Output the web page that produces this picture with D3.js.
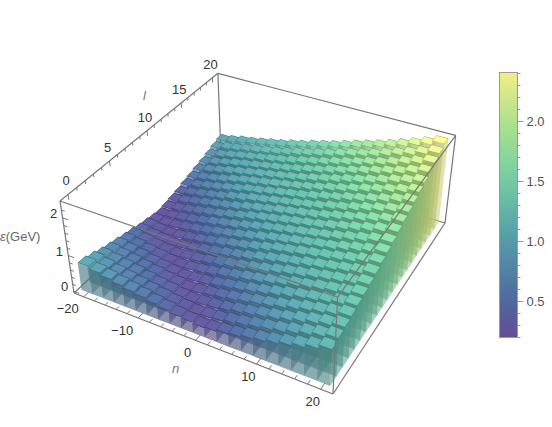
<!DOCTYPE html>
<meta charset="utf-8">
<style>
    html, body { margin: 0; background: #fff; }
    svg { display: block; }
    text { font-family: "Liberation Sans", sans-serif; font-size: 13px; }
</style>
<svg width="552" height="427"></svg>
<script src="https://d3js.org/d3.v7.min.js"></script>
<script>
// n runs -20..20 in steps of 2, l runs 0..20. energy[l][i] (GeV)
var nValues = [-20,-18,-16,-14,-12,-10,-8,-6,-4,-2,0,2,4,6,8,10,12,14,16,18,20];
var lValues = [0,1,2,3,4,5,6,7,8,9,10,11,12,13,14,15,16,17,18,19,20];
var energy = [
    [.76,.69,.63,.57,.52,.47,.41,.36,.31,.28,.25,.28,.33,.38,.45,.51,.58,.66,.75,.85,.96],
    [.69,.62,.56,.51,.46,.41,.36,.31,.27,.25,.28,.32,.38,.44,.51,.58,.65,.74,.83,.92,1.01],
    [.61,.56,.51,.46,.40,.35,.31,.27,.25,.28,.32,.37,.44,.50,.57,.64,.72,.81,.90,.98,1.06],
    [.55,.50,.45,.40,.35,.30,.27,.24,.27,.32,.37,.43,.50,.57,.63,.71,.80,.88,.95,1.03,1.11],
    [.50,.45,.40,.34,.30,.27,.24,.27,.31,.37,.43,.49,.56,.63,.71,.79,.87,.93,1.00,1.08,1.16],
    [.44,.39,.34,.30,.26,.24,.27,.31,.36,.43,.49,.56,.62,.70,.78,.86,.92,1.00,1.06,1.13,1.21],
    [.39,.34,.29,.26,.24,.27,.31,.36,.42,.49,.55,.62,.69,.77,.85,.91,.99,1.05,1.11,1.18,1.27],
    [.33,.29,.26,.23,.26,.30,.36,.42,.48,.54,.61,.69,.77,.84,.90,.98,1.04,1.10,1.17,1.24,1.34],
    [.29,.25,.23,.26,.30,.35,.41,.48,.54,.60,.68,.76,.84,.90,.97,1.03,1.09,1.16,1.23,1.32,1.41],
    [.25,.23,.26,.30,.35,.41,.47,.53,.60,.67,.75,.83,.89,.96,1.02,1.08,1.14,1.22,1.31,1.38,1.48],
    [.22,.25,.29,.34,.40,.47,.53,.59,.67,.74,.82,.88,.95,1.01,1.07,1.13,1.21,1.29,1.37,1.46,1.55],
    [.25,.29,.34,.40,.46,.52,.59,.66,.74,.81,.87,.94,1.00,1.06,1.12,1.20,1.28,1.36,1.45,1.54,1.63],
    [.29,.34,.40,.46,.52,.58,.65,.73,.80,.86,.93,.99,1.05,1.11,1.19,1.27,1.35,1.43,1.52,1.61,1.71],
    [.33,.39,.45,.51,.57,.65,.72,.80,.85,.92,.98,1.04,1.10,1.17,1.26,1.33,1.42,1.51,1.60,1.69,1.78],
    [.39,.45,.51,.57,.64,.71,.79,.84,.91,.97,1.03,1.09,1.16,1.25,1.32,1.41,1.49,1.58,1.67,1.77,1.86],
    [.44,.50,.56,.63,.71,.78,.84,.90,.96,1.02,1.08,1.15,1.23,1.31,1.39,1.48,1.57,1.66,1.75,1.84,1.94],
    [.50,.56,.63,.70,.77,.83,.89,.95,1.01,1.07,1.14,1.22,1.30,1.38,1.47,1.55,1.64,1.73,1.83,1.92,2.02],
    [.55,.62,.69,.76,.82,.88,.94,1.00,1.06,1.13,1.21,1.28,1.37,1.45,1.54,1.63,1.72,1.81,1.90,2.01,2.11],
    [.61,.68,.75,.81,.87,.93,.99,1.05,1.12,1.20,1.27,1.35,1.44,1.52,1.61,1.70,1.79,1.88,1.99,2.09,2.20],
    [.68,.75,.80,.86,.92,.98,1.04,1.11,1.19,1.26,1.34,1.42,1.51,1.60,1.68,1.77,1.87,1.97,2.07,2.18,2.29],
    [.74,.79,.86,.91,.97,1.03,1.09,1.17,1.24,1.33,1.41,1.49,1.58,1.67,1.76,1.85,1.95,2.05,2.16,2.27,2.38]
];

var nTicks = [-20,-10,0,10,20];
var lTicks = [0,5,10,15,20];
var zTicks = [0,1,2];
var barTicks = [0.5,1.0,1.5,2.0];
var colorValues = [0.19,0.5,1.0,1.3,1.6,2.0,2.41];
var colorStops = ["#644b96","#50699f","#559aaa","#64b9a5","#7dd2a0","#afe18c","#f0ee87"];

var svg = d3.select("svg");
var color = d3.scaleLinear().domain(colorValues).range(colorStops);
// the lit tops look further up the color bar than their height says
var lit = d3.scaleLinear().domain([0.19,0.7,1.4,2.41]).range([0.19,0.98,1.5,2.41]);

// axis ranges of the box, including the padding around the bars
var xs = d3.scaleLinear().domain([-21.84,21.84]).range([0,1]);
var ys = d3.scaleLinear().domain([-0.92,20.92]).range([0,1]);
var zs = d3.scaleLinear().domain([-0.05,2.43]).range([0,1]);

// perspective camera fitted to the corners of the box
function cam(X, Y, Z) {
    var w = 1 - 0.11507*X + 0.21378*Y - 0.065*Z;
    return [(74 + 220.68*X + 194.25*Y - 17.9*Z)/w, (293 + 55.66*X - 103.65*Y - 105.1*Z)/w];
}
function project(n, l, z) { return cam(xs(n), ys(l), zs(z)); }

var line = d3.line();
function face(points) { return line(points) + "Z"; }
var boxColor = "#777";

function edge(a, b) {
    svg.append("path").attr("d", line([cam.apply(null,a), cam.apply(null,b)]))
        .attr("fill","none").attr("stroke",boxColor).attr("stroke-width",1.2);
}

// back edges sit behind the bars
edge([0,0,0],[0,1,0]);
edge([0,1,0],[1,1,0]);
edge([0,1,0],[0,1,1]);

var bars = svg.append("g");
var hn = 1, hl = 0.5;      // full bar footprint
var tn = 0.93, tl = 0.42;  // lighter tile on top of it
for (var j = lValues.length - 1; j >= 0; j--) {
    for (var i = 0; i < nValues.length; i++) {
        var n = nValues[i], l = lValues[j], e = energy[j][i];
        var c = d3.rgb(color(lit(e)));
        // front side
        bars.append("path")
            .attr("d", face([project(n-hn,l-hl,0),project(n+hn,l-hl,0),project(n+hn,l-hl,e),project(n-hn,l-hl,e)]))
            .attr("fill", c.darker(0.8)).attr("fill-opacity",0.62);
        // right side
        bars.append("path")
            .attr("d", face([project(n+hn,l-hl,0),project(n+hn,l+hl,0),project(n+hn,l+hl,e),project(n+hn,l-hl,e)]))
            .attr("fill", c.darker(0.4)).attr("fill-opacity",0.58);
        // top
        bars.append("path")
            .attr("d", face([project(n-hn,l-hl,e),project(n+hn,l-hl,e),project(n+hn,l+hl,e),project(n-hn,l+hl,e)]))
            .attr("fill", c.darker(0.9));
        bars.append("path")
            .attr("d", face([project(n-tn,l-tl,e),project(n+tn,l-tl,e),project(n+tn,l+tl,e),project(n-tn,l+tl,e)]))
            .attr("fill", c.brighter(0.25));
    }
}

// front edges
edge([0,0,0],[1,0,0]);
edge([1,0,0],[1,1,0]);
edge([1,1,0],[1,1,1]);
edge([0,0,0],[0,0,1]);
edge([1,0,0],[1,0,1]);
edge([0,0,1],[1,0,1]);
edge([1,0,1],[1,1,1]);
edge([0,0,1],[0,1,1]);
edge([0,1,1],[1,1,1]);

function tick(a, b, w) {
    svg.append("path").attr("d", line([a,b])).attr("fill","none").attr("stroke",boxColor).attr("stroke-width",w || 1);
}
function tickLabel(p, dx, dy, s) {
    svg.append("text").attr("x",p[0]+dx).attr("y",p[1]+dy).attr("dy","0.35em")
        .attr("text-anchor","middle").attr("fill","#333").text(s);
}
function fmt(d) { return d < 0 ? "\u2212" + (-d) : "" + d; }

// n axis
d3.range(-20,21,2).forEach(function(d) {
    var major = nTicks.indexOf(d) >= 0;
    tick(cam(xs(d),0,0), cam(xs(d), major ? 0.03 : 0.018, 0));
});
nTicks.forEach(function(d) { tickLabel(cam(xs(d),0,0), d < 0 ? -16 : -8, 12, fmt(d)); });

// l axis
d3.range(0,21,1).forEach(function(d) {
    var major = lTicks.indexOf(d) >= 0;
    tick(cam(0,ys(d),1), cam(0,ys(d), major ? 0.945 : 0.967));
});
lTicks.forEach(function(d) { tickLabel(cam(0,ys(d),1), -2, -13.5, d); });

// energy axis
d3.range(0,2.3,0.2).forEach(function(d) {
    var major = Math.abs(d - Math.round(d)) < 1e-6;
    tick(cam(0,0,zs(d)), cam(major ? 0.024 : 0.014,0,zs(d)));
});
zTicks.forEach(function(d) { tickLabel(cam(0,0,zs(d)), -9, -4.5, d); });

// axis titles
svg.append("text").attr("x",172).attr("y",373).attr("fill","#777").style("font-style","italic").text("n");
svg.append("text").attr("x",143).attr("y",100).attr("fill","#777").style("font-style","italic").text("l");
var eTitle = svg.append("text").attr("x",0).attr("y",241).attr("fill","#666");
eTitle.append("tspan").style("font-style","italic").text("\u03b5");
eTitle.append("tspan").text("(GeV)");

// color bar
var barScale = d3.scaleLinear().domain([0.194,2.406]).range([337.7,72.3]);
var grad = svg.append("defs").append("linearGradient").attr("id","bar")
    .attr("x1",0).attr("x2",0).attr("y1",1).attr("y2",0);
colorValues.forEach(function(v, k) {
    grad.append("stop").attr("offset",(v-0.19)/(2.41-0.19)).attr("stop-color",colorStops[k]);
});
svg.append("rect").attr("x",499.5).attr("y",72.5).attr("width",18).attr("height",265)
    .attr("fill","url(#bar)").attr("stroke","#999");

var minorAxis = d3.axisRight(barScale).tickValues(d3.range(0.2,2.41,0.1)).tickSize(3).tickFormat("");
var majorAxis = d3.axisRight(barScale).tickValues(barTicks).tickSize(6).tickPadding(3).tickFormat(d3.format(".1f"));
[minorAxis, majorAxis].forEach(function(a) {
    var g = svg.append("g").attr("transform","translate(517.5,0)").call(a);
    g.select(".domain").remove();
    g.selectAll("line").attr("stroke","#999");
    g.selectAll("text").attr("fill","#555").style("font-size","13px").style("font-family","Liberation Sans");
});
</script>
